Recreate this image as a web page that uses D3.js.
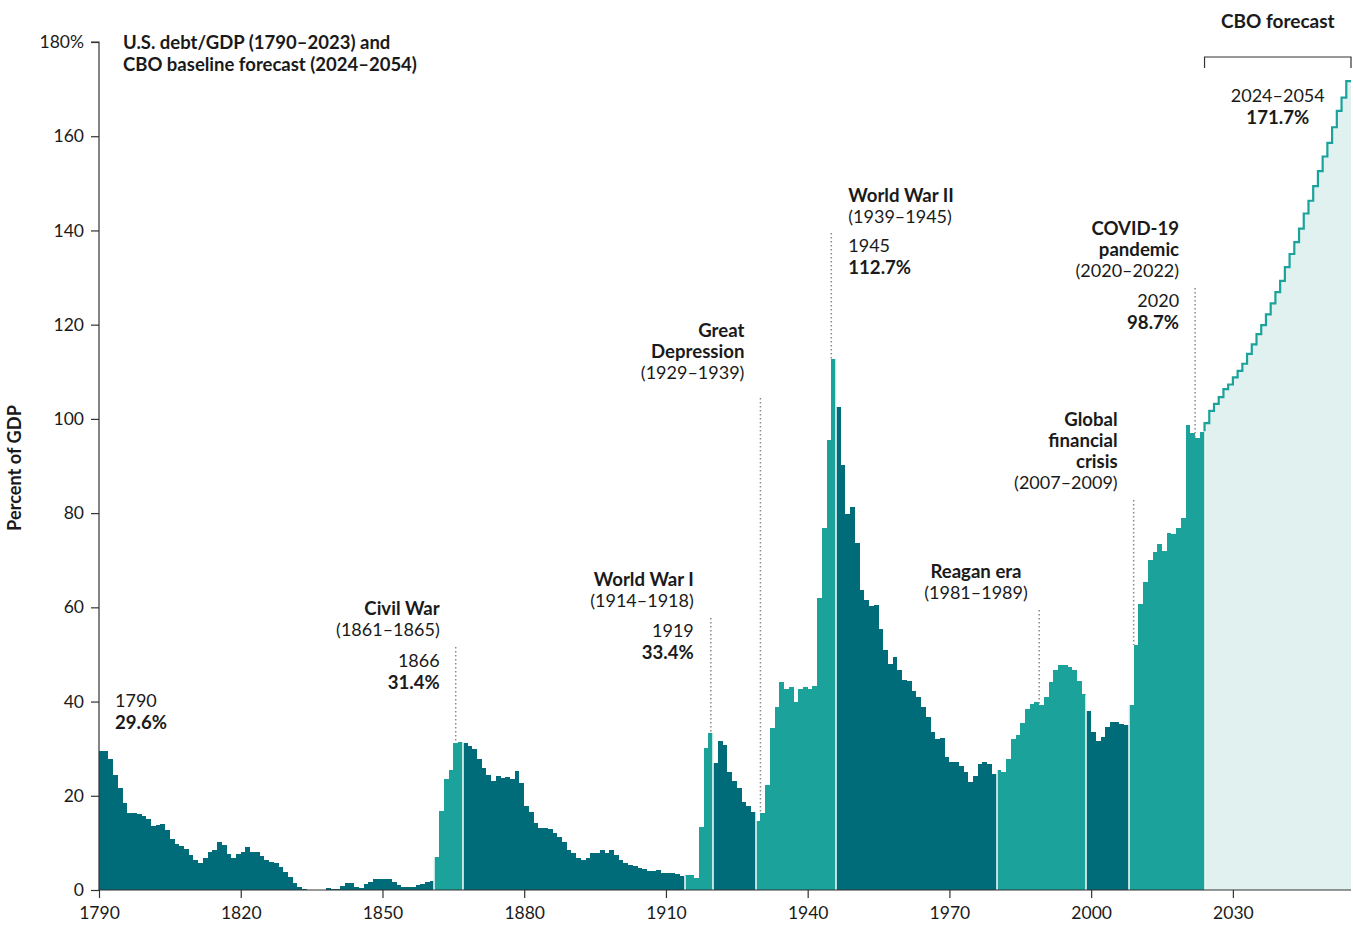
<!DOCTYPE html>
<html><head><meta charset="utf-8">
<script src="https://cdn.jsdelivr.net/npm/d3@7"></script>
<style>
html,body{margin:0;padding:0;background:#fff;}
svg text{font-family:Lato,"Open Sans",sans-serif;fill:#1a1a1a;}
</style></head><body>
<svg id="chart" width="1353" height="926"></svg>
<script>
// ---------- DATA ----------
const histStartYear = 1790;
const debtHistory = [
 29.6,29.4,27.8,24.4,21.6,18.4,16.4,16.4,16.1,15.8,          // 1790-1799
 15.0,13.5,13.8,14.0,12.7,10.8,9.7,9.4,8.6,7.4,              // 1800-1809
 6.4,5.7,6.7,8.1,8.5,10.1,9.6,7.7,6.7,7.6,                   // 1810-1819
 8.0,9.1,8.0,8.0,7.3,6.3,5.9,5.7,4.8,3.9,                    // 1820-1829
 2.8,1.5,0.6,0.2,0.1,0.0,0.0,0.1,0.5,0.2,                    // 1830-1839
 0.2,0.9,1.4,1.4,0.7,0.5,1.2,1.6,2.3,2.3,                    // 1840-1849
 2.3,2.3,1.8,1.1,0.7,0.7,0.6,1.0,1.2,1.6,                    // 1850-1859
 1.9,7.0,16.8,23.5,25.5,31.1,31.4,31.1,30.6,29.9,            // 1860-1869
 27.8,25.9,24.5,23.1,24.1,23.7,23.9,23.6,25.2,22.8,          // 1870-1879
 17.9,16.6,14.3,13.2,13.2,12.9,12.2,11.2,10.1,8.4,           // 1880-1889
 7.8,6.7,6.4,6.7,7.8,7.8,8.4,7.8,8.4,7.4,                    // 1890-1899
 6.4,5.7,5.3,5.0,4.6,4.4,4.1,4.1,4.3,3.6,                    // 1900-1909
 3.6,3.6,3.4,3.0,3.1,3.1,2.5,13.4,30.1,33.4,                 // 1910-1919
 27.0,31.6,30.8,25.0,23.2,21.6,18.7,17.8,16.6,14.6,          // 1920-1929
 16.3,22.3,34.3,38.8,44.1,42.6,43.0,40.0,42.6,43.0,          // 1930-1939
 42.7,43.2,61.9,76.8,95.5,112.7,102.5,90.3,79.9,81.3,        // 1940-1949
 73.7,63.7,61.5,60.3,60.6,55.4,50.9,47.9,49.4,46.7,          // 1950-1959
 44.6,44.4,42.2,40.9,38.9,36.8,33.6,32.1,32.2,28.2,          // 1960-1969
 27.2,27.1,26.3,25.0,23.0,24.3,26.7,27.1,26.7,24.6,          // 1970-1979
 25.5,25.1,27.8,32.1,32.9,35.4,38.4,39.5,39.8,39.3,          // 1980-1989
 41.0,44.2,46.8,47.8,47.7,47.4,46.7,44.4,41.5,38.1,          // 1990-1999
 33.6,31.7,32.5,34.7,35.7,35.6,35.2,35.0,39.3,52.0,          // 2000-2009
 60.7,65.3,70.1,71.7,73.5,72.0,75.7,75.6,76.8,79.0,          // 2010-2019
 98.7,96.9,96.0,97.3                                          // 2020-2023
];
const forecastStartYear = 2024;
const debtForecast = [
 99.1,101.7,103.2,104.6,106.3,107.3,108.8,110.2,111.7,113.8,   // 2024-2033
 115.8,118.0,119.9,122.2,124.5,126.9,129.3,132.2,135.0,137.5,  // 2034-2043
 140.4,143.6,146.3,149.4,152.6,155.7,158.6,161.9,165.4,168.2,  // 2044-2053
 171.7                                                          // 2054
];
const episodeStarts = [1861, 1914, 1929, 1980, 2008];
const episodeEnds   = [1866, 1919, 1945, 1998, 2023];
const xTickYears = [1790, 1820, 1850, 1880, 1910, 1940, 1970, 2000, 2030];
const yTickValues = [0, 20, 40, 60, 80, 100, 120, 140, 160, 180];

const titleLines = ["U.S. debt/GDP (1790\u20132023) and", "CBO baseline forecast (2024\u20132054)"];
const yAxisTitle = "Percent of GDP";
const forecastHeader = "CBO forecast";
const forecastLabel = ["2024\u20132054", "171.7%"];
const startLabel = ["1790", "29.6%"];
const civilWarLabel = ["Civil War", "(1861\u20131865)"];
const civilWarValue = ["1866", "31.4%"];
const ww1Label = ["World War I", "(1914\u20131918)"];
const ww1Value = ["1919", "33.4%"];
const depressionLabel = ["Great", "Depression", "(1929\u20131939)"];
const ww2Label = ["World War II", "(1939\u20131945)"];
const ww2Value = ["1945", "112.7%"];
const reaganLabel = ["Reagan era", "(1981\u20131989)"];
const gfcLabel = ["Global", "financial", "crisis", "(2007\u20132009)"];
const covidLabel = ["COVID-19", "pandemic", "(2020\u20132022)"];
const covidValue = ["2020", "98.7%"];

// ---------- CHART ----------
const DARK = "#006b79", TEAL = "#1ba39b", LIGHT = "#e1f1ef", INK = "#1a1a1a", AXIS = "#333";
const FONT = "Lato, 'Open Sans', sans-serif";
const svg = d3.select("#chart");
const x = d3.scaleLinear().domain([1790, 2055]).range([99, 1351]);
const y = d3.scaleLinear().domain([0, 180]).range([890, 42]);

const hist = debtHistory.map((v, i) => ({year: histStartYear + i, value: v}));
const fc = debtForecast.map((v, i) => ({year: forecastStartYear + i, value: v}));
const isEpisode = yr => episodeStarts.some((s, k) => yr >= s && yr <= episodeEnds[k]);

// forecast area + step line
const fcPts = fc.concat([{year: fc[fc.length - 1].year + 1, value: fc[fc.length - 1].value}]);
svg.append("path")
  .attr("d", d3.area().curve(d3.curveStepAfter).x(d => x(d.year)).y0(y(0)).y1(d => y(d.value))(fcPts))
  .attr("fill", LIGHT);
const lastHist = hist[hist.length - 1];
svg.append("path")
  .attr("d", d3.line().curve(d3.curveStepAfter).x(d => x(d.year)).y(d => y(d.value))(
      [{year: forecastStartYear, value: lastHist.value}].concat(fcPts)))
  .attr("fill", "none").attr("stroke", TEAL).attr("stroke-width", 2.2);

// bars
const rx = yr => Math.round(x(yr));
svg.append("g").attr("shape-rendering", "crispEdges").selectAll("rect").data(hist).join("rect")
  .attr("x", d => rx(d.year))
  .attr("width", d => rx(d.year + 1) - rx(d.year))
  .attr("y", d => y(d.value))
  .attr("height", d => y(0) - y(d.value))
  .attr("fill", d => isEpisode(d.year) ? TEAL : DARK);

// separators at episode boundaries
const boundaries = [];
episodeStarts.forEach((s, k) => { boundaries.push(s); boundaries.push(episodeEnds[k] + 1); });
const valAt = yr => { const h = hist.find(d => d.year === yr); return h ? h.value : 0; };
svg.append("g").selectAll("line").data(boundaries).join("line")
  .attr("x1", d => rx(d)).attr("x2", d => rx(d))
  .attr("y1", y(0))
  .attr("y2", d => y(Math.max(valAt(d - 1), valAt(d))))
  .attr("stroke", "#eef7f6").attr("stroke-width", 1.6);

// axes
const yAxis = d3.axisLeft(y).tickValues(yTickValues).tickSize(8).tickPadding(7)
  .tickFormat(d => d === 180 ? "180%" : d);
const gy = svg.append("g").attr("transform", `translate(${x(1790)},0)`).call(yAxis);
const xAxis = d3.axisBottom(x).tickValues(xTickYears).tickSize(8).tickPadding(9).tickFormat(d3.format("d"));
const gx = svg.append("g").attr("transform", `translate(0,${y(0)})`).call(xAxis);
[gx, gy].forEach(g => {
  g.select(".domain").attr("stroke", AXIS).attr("stroke-width", 1.2);
  g.selectAll(".tick line").attr("stroke", AXIS).attr("stroke-width", 1.2);
  g.selectAll(".tick text").attr("font-size", 17.5).attr("fill", INK).style("font-family", FONT);
});
gy.select(".domain").attr("d", `M-8,${y(180)}H0V${y(0)}`);
gx.select(".domain").attr("d", `M${x(1790)},0H${x(2055)}`);

// y axis title
svg.append("text").attr("transform", `translate(21,${(y(0) + y(180)) / 2 + 2}) rotate(-90)`)
  .attr("text-anchor", "middle").attr("font-size", 18.2).attr("font-weight", 700).text(yAxisTitle);

// helper for text blocks
function block(lines, bx, by, anchor, boldIdx) {
  const t = svg.append("g");
  lines.forEach((s, i) => {
    const b = boldIdx.includes(i);
    t.append("text").attr("x", bx).attr("y", by + i * 21.3).attr("dy", "0.35em")
      .attr("text-anchor", anchor).attr("font-size", b ? 18.6 : 18)
      .attr("font-weight", b ? 700 : 400).text(s);
  });
}
// dotted leader lines
function leader(yr, topY) {
  svg.append("line").attr("x1", x(yr)).attr("x2", x(yr))
    .attr("y1", topY).attr("y2", y(valAt(Math.floor(yr))))
    .attr("stroke", "#8a8a8a").attr("stroke-width", 1.5).attr("stroke-dasharray", "1.5,2.5");
}

// title
titleLines.forEach((s, i) => svg.append("text").attr("x", 123).attr("y", y(180) + 1 + i * 21.3).attr("dy", "0.35em")
  .attr("font-size", 18.5).attr("font-weight", 700).text(s));

// forecast header and bracket
svg.append("text").attr("x", (x(2024) + x(2055)) / 2).attr("y", 21).attr("dy", "0.35em")
  .attr("text-anchor", "middle").attr("font-size", 19).attr("font-weight", 700).text(forecastHeader);
svg.append("path").attr("d", `M${x(2024)},68V57H${x(2055)}V68`).attr("fill", "none").attr("stroke", AXIS).attr("stroke-width", 1.2);
block(forecastLabel, (x(2024) + x(2055)) / 2, 96, "middle", [1]);

// annotations
block(startLabel, 115, 701, "start", [1]);

leader(1865.5, 647);
block(civilWarLabel, x(1865.5) - 16, 608, "end", [0]);
block(civilWarValue, x(1865.5) - 16, 661, "end", [1]);

leader(1919.5, 618);
block(ww1Label, x(1919.5) - 17, 579, "end", [0]);
block(ww1Value, x(1919.5) - 17, 631, "end", [1]);

leader(1930, 398);
block(depressionLabel, x(1930) - 16, 330, "end", [0, 1]);

leader(1945, 233);
block(ww2Label, x(1945) + 17, 195, "start", [0]);
block(ww2Value, x(1945) + 17, 246, "start", [1]);

leader(1989, 610);
block(reaganLabel, 976, 571, "middle", [0]);

leader(2009, 500);
block(gfcLabel, x(2009) - 16, 419, "end", [0, 1, 2]);

leader(2022, 288);
block(covidLabel, x(2022) - 16, 228, "end", [0, 1]);
block(covidValue, x(2022) - 16, 301, "end", [1]);
</script>
</body></html>
